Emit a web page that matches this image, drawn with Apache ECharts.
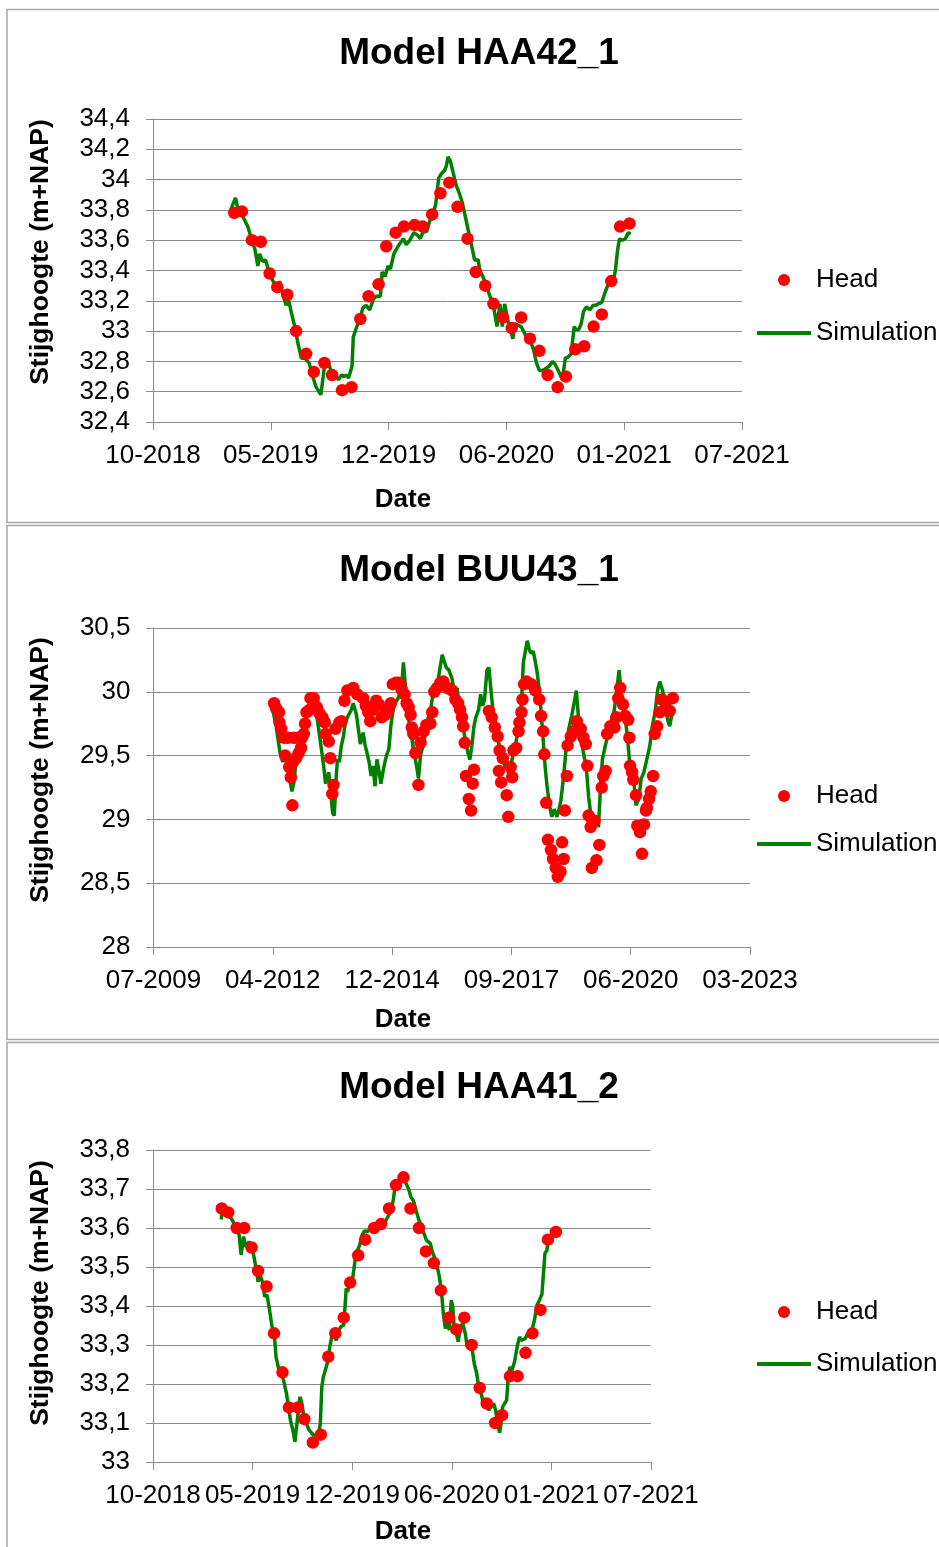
<!DOCTYPE html>
<html>
<head>
<meta charset="utf-8">
<script src="https://cdn.jsdelivr.net/npm/echarts@6/dist/echarts.min.js"></script>
<style>
  html, body { margin: 0; padding: 0; background: #fff; }
  #chart { width: 939px; height: 1547px; }
</style>
</head>
<body>
<div id="chart"></div>
<script>
// Dates are spreadsheet day serials (days since 1899-12-30).

// Measurement dates shared by the HAA wells (twice a month)
const haaHeadDays = [
  43538, 43551, 43568, 43583, 43598, 43611, 43628, 43643, 43660, 43673,
  43691, 43704, 43721, 43737, 43752, 43766, 43783, 43796, 43812, 43826,
  43844, 43858, 43874, 43888, 43903, 43917, 43934, 43948, 43964, 43978,
  43994, 44009, 44025, 44040, 44056, 44070, 44087, 44101, 44117, 44132,
  44148, 44162, 44178, 44193, 44209
];

// HAA42_1 observed head (m+NAP)
const haa42Head = [
  33.78, 33.79, 33.60, 33.59, 33.38, 33.29, 33.24, 33.00, 32.85, 32.73,
  32.79, 32.71, 32.61, 32.63, 33.08, 33.23, 33.31, 33.56, 33.65, 33.69,
  33.70, 33.69, 33.77, 33.91, 33.98, 33.82, 33.61, 33.39, 33.30, 33.18,
  33.09, 33.02, 33.09, 32.95, 32.87, 32.71, 32.63, 32.70, 32.88, 32.90,
  33.03, 33.11, 33.33, 33.69, 33.71
];

// HAA42_1 simulated head
const haa42SimDays = [
  43532, 43540, 43544, 43552, 43561, 43568, 43573, 43578, 43581, 43586,
  43591, 43598, 43605, 43611, 43615, 43619, 43626, 43630, 43635, 43642,
  43646, 43652, 43658, 43665, 43672, 43677, 43685, 43689, 43692, 43697,
  43702, 43709, 43715, 43720, 43724, 43729, 43732, 43738, 43740, 43746,
  43751, 43756, 43762, 43768, 43774, 43779, 43786, 43789, 43794, 43799,
  43803, 43809, 43816, 43819, 43825, 43830, 43836, 43843, 43850, 43854,
  43858, 43865, 43870, 43874, 43880, 43885, 43890, 43895, 43898, 43901,
  43905, 43910, 43915, 43920, 43925, 43930, 43935, 43940, 43946, 43952,
  43955, 43960, 43966, 43972, 43977, 43984, 43989, 43993, 43997, 44004,
  44011, 44014, 44019, 44025, 44029, 44034, 44041, 44046, 44051, 44056,
  44061, 44066, 44073, 44078, 44083, 44088, 44095, 44100, 44105, 44110,
  44115, 44118, 44123, 44127, 44131, 44136, 44142, 44147, 44152, 44156,
  44162, 44167, 44172, 44176, 44182, 44185, 44189, 44192, 44197, 44202,
  44207, 44211
];
const haa42Sim = [
  33.80, 33.88, 33.81, 33.76, 33.69, 33.60, 33.54, 33.43, 33.51, 33.46,
  33.47, 33.38, 33.32, 33.27, 33.33, 33.26, 33.17, 33.21, 33.12, 33.01,
  32.92, 32.82, 32.82, 32.79, 32.69, 32.63, 32.58, 32.70, 32.81, 32.80,
  32.74, 32.71, 32.68, 32.71, 32.70, 32.71, 32.69, 32.77, 32.96, 33.03,
  33.07, 33.15, 33.17, 33.14, 33.21, 33.23, 33.23, 33.39, 33.36, 33.43,
  33.41, 33.51, 33.56, 33.55, 33.61, 33.57, 33.60, 33.65, 33.63, 33.61,
  33.65, 33.66, 33.73, 33.74, 33.84, 34.01, 34.04, 34.06, 34.09, 34.15,
  34.12, 34.04, 33.96, 33.91, 33.85, 33.76, 33.67, 33.58, 33.47, 33.47,
  33.40, 33.36, 33.30, 33.23, 33.19, 33.03, 33.18, 33.03, 33.18, 33.04,
  32.95, 33.05, 33.04, 33.03, 33.00, 32.96, 32.93, 32.88, 32.79, 32.74,
  32.74, 32.75, 32.77, 32.80, 32.78, 32.74, 32.68, 32.82, 32.83, 32.85,
  33.03, 33.01, 33.01, 33.05, 33.13, 33.16, 33.14, 33.17, 33.17, 33.18,
  33.19, 33.25, 33.30, 33.33, 33.34, 33.40, 33.54, 33.61, 33.60, 33.61,
  33.65, 33.64
];

// BUU43_1 observed head
const buu43HeadDays = [
  41011, 41028, 41051, 41056, 41071, 41094, 41104, 41127, 41137, 41151,
  41164, 41170, 41177, 41194, 41210, 41217, 41237, 41243, 41260, 41270,
  41283, 41310, 41316, 41343, 41369, 41393, 41416, 41436, 41442, 41469,
  41482, 41499, 41509, 41525, 41558, 41575, 41601, 41625, 41674, 41708,
  41757, 41780, 41800, 41817, 41840, 41867, 41890, 41913, 41940, 41966,
  41989, 42006, 42032, 42056, 42079, 42105, 42122, 42139, 42155, 42165,
  42178, 42195, 42221, 42238, 42265, 42288, 42321, 42337, 42354, 42377,
  42404, 42430, 42464, 42503, 42530, 42553, 42570, 42586, 42596, 42609,
  42619, 42643, 42662, 42676, 42686, 42812, 42835, 42861, 42885, 42895,
  42901, 42914, 42928, 42961, 42974, 42994, 43007, 43017, 43040, 43060,
  43067, 43084, 43093, 43107, 43127, 43166, 43200, 43233, 43249, 43266,
  43276, 43292, 43306, 43332, 43349, 43372, 43389, 43412, 43425, 43438,
  43448, 43465, 43471, 43498, 43524, 43548, 43581, 43604, 43624, 43637,
  43647, 43664, 43674, 43680, 43697, 43713, 43737, 43757, 43770, 43790,
  43803, 43830, 43863, 43879, 43896, 43912, 43936, 43955, 43979, 43989,
  43995, 44012, 44022, 44045, 44055, 44078, 44095, 44111, 44128, 44135,
  44154, 44168, 44188, 44201, 44221, 44244, 44261, 44294, 44327, 44353
];
const buu43Head = [
  29.91, 29.87, 29.84, 29.76, 29.71, 29.64, 29.50, 29.64, 29.41, 29.33,
  29.11, 29.45, 29.64, 29.48, 29.64, 29.52, 29.56, 29.64, 29.67, 29.75,
  29.84, 29.86, 29.95, 29.95, 29.88, 29.83, 29.80, 29.76, 29.67, 29.61,
  29.48, 29.20, 29.27, 29.71, 29.76, 29.77, 29.93, 30.01, 30.03, 29.98,
  29.95, 29.89, 29.84, 29.77, 29.86, 29.93, 29.90, 29.80, 29.82, 29.85,
  29.91, 30.06, 30.07, 30.07, 30.02, 29.98, 29.91, 29.88, 29.82, 29.72,
  29.67, 29.52, 29.27, 29.60, 29.69, 29.74, 29.75, 29.84, 30.00, 30.03,
  30.07, 30.08, 30.03, 30.01, 29.94, 29.91, 29.86, 29.80, 29.73, 29.60,
  29.34, 29.16, 29.07, 29.28, 29.39, 29.85, 29.80, 29.72, 29.65, 29.38,
  29.54, 29.29, 29.48, 29.19, 29.02, 29.41, 29.33, 29.54, 29.56, 29.69,
  29.76, 29.84, 29.94, 30.06, 30.08, 30.06, 30.01, 29.94, 29.81, 29.69,
  29.51, 29.13, 28.84, 28.76, 28.69, 28.62, 28.55, 28.59, 28.82, 28.69,
  29.07, 29.34, 29.58, 29.65, 29.69, 29.77, 29.71, 29.64, 29.59, 29.42,
  29.03, 28.94, 28.62, 28.98, 28.99, 28.68, 28.80, 29.25, 29.34, 29.38,
  29.67, 29.73, 29.72, 29.80, 29.95, 30.03, 29.90, 29.81, 29.78, 29.64,
  29.42, 29.37, 29.31, 29.19, 28.95, 28.90, 28.73, 28.96, 29.07, 29.09,
  29.16, 29.22, 29.34, 29.67, 29.73, 29.84, 29.94, 29.91, 29.85, 29.95
];

// BUU43_1 simulated head
const buu43SimDays = [
  40988, 41028, 41061, 41084, 41111, 41137, 41160, 41177, 41194, 41210,
  41227, 41243, 41270, 41293, 41316, 41343, 41369, 41393, 41409, 41426,
  41442, 41469, 41485, 41502, 41515, 41532, 41542, 41558, 41575, 41592,
  41608, 41631, 41658, 41674, 41701, 41714, 41734, 41757, 41774, 41790,
  41807, 41824, 41840, 41857, 41873, 41890, 41906, 41923, 41940, 41956,
  41973, 41989, 42006, 42022, 42046, 42062, 42079, 42095, 42112, 42125,
  42139, 42155, 42172, 42188, 42205, 42221, 42238, 42251, 42265, 42278,
  42298, 42321, 42337, 42354, 42371, 42387, 42404, 42420, 42437, 42454,
  42477, 42503, 42530, 42546, 42563, 42586, 42603, 42619, 42636, 42652,
  42669, 42686, 42702, 42725, 42742, 42759, 42775, 42795, 42812, 42828,
  42845, 42861, 42878, 42895, 42911, 42928, 42944, 42967, 42984, 43001,
  43017, 43034, 43050, 43067, 43084, 43100, 43117, 43133, 43150, 43166,
  43183, 43200, 43216, 43233, 43249, 43266, 43282, 43299, 43319, 43339,
  43359, 43382, 43399, 43415, 43438, 43458, 43481, 43505, 43531, 43544,
  43564, 43581, 43597, 43614, 43631, 43647, 43664, 43690, 43713, 43730,
  43747, 43763, 43790, 43813, 43836, 43863, 43886, 43903, 43922, 43946,
  43969, 43989, 44012, 44028, 44045, 44068, 44088, 44111, 44135, 44161,
  44181, 44204, 44227, 44244, 44261, 44277, 44294, 44310, 44327, 44343,
  44360
];
const buu43Sim = [
  29.91, 29.73, 29.52, 29.45, 29.52, 29.34, 29.22, 29.29, 29.45, 29.52,
  29.58, 29.65, 29.78, 29.86, 29.95, 29.93, 29.81, 29.65, 29.54, 29.42,
  29.28, 29.37, 29.21, 29.05, 29.03, 29.34, 29.47, 29.45, 29.58, 29.65,
  29.76, 29.81, 29.86, 29.91, 29.82, 29.73, 29.59, 29.68, 29.58, 29.52,
  29.45, 29.34, 29.42, 29.26, 29.47, 29.38, 29.28, 29.37, 29.45, 29.51,
  29.55, 29.73, 29.84, 29.91, 29.94, 29.98, 30.03, 30.23, 30.04, 29.89,
  29.78, 29.71, 29.59, 29.50, 29.42, 29.32, 29.50, 29.55, 29.60, 29.68,
  29.78, 29.85, 29.95, 29.97, 30.02, 30.10, 30.20, 30.29, 30.24, 30.19,
  30.17, 30.10, 29.94, 30.03, 29.84, 29.76, 29.68, 29.60, 29.52, 29.47,
  29.58, 29.73, 29.80, 29.86, 29.98, 29.89, 29.94, 30.17, 30.19, 30.02,
  29.86, 29.78, 29.71, 29.59, 29.52, 29.47, 29.42, 29.39, 29.34, 29.45,
  29.52, 29.58, 29.67, 29.78, 29.91, 30.23, 30.32, 30.40, 30.33, 30.30,
  30.32, 30.24, 30.15, 30.02, 29.84, 29.63, 29.42, 29.26, 29.11, 29.02,
  29.08, 29.02, 29.08, 29.15, 29.34, 29.55, 29.71, 29.81, 29.94, 30.01,
  29.78, 29.65, 29.56, 29.47, 29.37, 29.18, 29.05, 29.03, 29.00, 28.94,
  29.26, 29.47, 29.59, 29.67, 29.77, 29.86, 30.04, 30.17, 29.98, 29.85,
  29.68, 29.47, 29.39, 29.28, 29.11, 29.16, 29.32, 29.37, 29.47, 29.58,
  29.73, 29.84, 30.02, 30.08, 30.03, 29.97, 29.86, 29.78, 29.73, 29.81,
  29.86
];

// HAA41_2 observed head
const haa41Head = [
  33.65, 33.64, 33.60, 33.60, 33.55, 33.49, 33.45, 33.33, 33.23, 33.14,
  33.14, 33.11, 33.05, 33.07, 33.27, 33.33, 33.37, 33.46, 33.53, 33.57,
  33.60, 33.61, 33.65, 33.71, 33.73, 33.65, 33.60, 33.54, 33.51, 33.44,
  33.37, 33.34, 33.37, 33.30, 33.19, 33.15, 33.10, 33.12, 33.22, 33.22,
  33.28, 33.33, 33.39, 33.57, 33.59
];

// HAA41_2 simulated head
const haa41SimDays = [
  43537, 43539, 43544, 43553, 43561, 43569, 43573, 43577, 43582, 43586,
  43593, 43597, 43602, 43607, 43611, 43615, 43621, 43624, 43629, 43634,
  43639, 43644, 43647, 43653, 43658, 43662, 43668, 43672, 43676, 43681,
  43685, 43689, 43692, 43695, 43699, 43703, 43708, 43713, 43718, 43722,
  43728, 43733, 43736, 43739, 43742, 43746, 43750, 43755, 43759, 43763,
  43768, 43773, 43778, 43783, 43786, 43788, 43791, 43795, 43801, 43805,
  43808, 43811, 43815, 43820, 43825, 43830, 43836, 43841, 43848, 43855,
  43862, 43868, 43875, 43880, 43883, 43886, 43888, 43893, 43898, 43904,
  43908, 43914, 43918, 43923, 43928, 43934, 43938, 43944, 43949, 43952,
  43957, 43961, 43965, 43970, 43975, 43979, 43983, 43987, 43991, 43995,
  43999, 44002, 44005, 44009, 44013, 44017, 44022, 44027, 44031, 44035,
  44041, 44045, 44050, 44054, 44059, 44062, 44067, 44070, 44074, 44079,
  44084, 44088, 44092, 44096, 44099, 44102, 44106, 44110, 44114, 44117,
  44121, 44126, 44129, 44132, 44136, 44139, 44142, 44148, 44151, 44156,
  44161, 44166, 44171, 44176, 44181, 44184, 44187, 44191, 44194, 44199,
  44204, 44208
];
const haa41Sim = [
  33.622, 33.642, 33.639, 33.633, 33.616, 33.595, 33.582, 33.531, 33.578, 33.552,
  33.565, 33.552, 33.531, 33.496, 33.462, 33.479, 33.458, 33.424, 33.428, 33.390,
  33.347, 33.321, 33.270, 33.235, 33.227, 33.210, 33.176, 33.141, 33.107, 33.081,
  33.052, 33.052, 33.133, 33.167, 33.150, 33.116, 33.099, 33.083, 33.075, 33.069,
  33.069, 33.075, 33.099, 33.193, 33.218, 33.235, 33.253, 33.295, 33.321, 33.331,
  33.312, 33.338, 33.348, 33.351, 33.407, 33.445, 33.436, 33.466, 33.471, 33.509,
  33.535, 33.539, 33.556, 33.582, 33.593, 33.590, 33.599, 33.602, 33.608, 33.605,
  33.612, 33.620, 33.637, 33.655, 33.676, 33.706, 33.714, 33.714, 33.723, 33.727,
  33.723, 33.697, 33.679, 33.670, 33.646, 33.620, 33.608, 33.586, 33.569, 33.573,
  33.560, 33.539, 33.526, 33.505, 33.475, 33.441, 33.381, 33.342, 33.364, 33.338,
  33.415, 33.398, 33.338, 33.330, 33.308, 33.347, 33.355, 33.330, 33.295, 33.291,
  33.287, 33.253, 33.227, 33.193, 33.176, 33.158, 33.141, 33.150, 33.133, 33.141,
  33.150, 33.133, 33.099, 33.075, 33.099, 33.141, 33.150, 33.158, 33.227, 33.244,
  33.235, 33.257, 33.261, 33.300, 33.321, 33.312, 33.308, 33.317, 33.327, 33.327,
  33.338, 33.364, 33.402, 33.415, 33.430, 33.434, 33.535, 33.543, 33.576, 33.578,
  33.586, 33.599
];

const seriesNames = ['Head', 'Simulation'];
const panelTitles = ['Model HAA42_1', 'Model BUU43_1', 'Model HAA41_2'];
const yAxisTitle = 'Stijghoogte (m+NAP)';
const xAxisTitle = 'Date';

const FONT = '"Liberation Sans", Arial, Helvetica, sans-serif';
const GRID_GRAY = '#8c8c8c';
const RED = '#ff0000';
const GREEN = '#008000';

const zip = (xs, ys) => xs.map((x, i) => [x, ys[i]]);
const EPOCH = Date.UTC(1899, 11, 30);
const monthYear = (s) => {
  const d = new Date(EPOCH + Math.round(s) * 86400000);
  return String(d.getUTCMonth() + 1).padStart(2, '0') + '-' + d.getUTCFullYear();
};
const decimalComma = (v) => String(Math.round(v * 10) / 10).replace('.', ',');

// Panel layout: plot rectangle, axis ranges, legend and text positions
const panels = [
  { grid: { left: 153, top: 119, width: 589, height: 303 },
    x: { min: 43400, max: 44400, interval: 200 },
    y: { min: 32.4, max: 34.4, interval: 0.2 },
    titleTop: 30, yNameY: 252, dateY: 500, legendTop: 267, legendGap: 27 },
  { grid: { left: 153.5, top: 628, width: 596.5, height: 319 },
    x: { min: 40000, max: 45000, interval: 1000 },
    y: { min: 28, max: 30.5, interval: 0.5 },
    titleTop: 547, yNameY: 770, dateY: 1020, legendTop: 783, legendGap: 22 },
  { grid: { left: 153, top: 1150, width: 498, height: 312 },
    x: { min: 43400, max: 44400, interval: 200 },
    y: { min: 33, max: 33.8, interval: 0.1 },
    titleTop: 1064, yNameY: 1293, dateY: 1532, legendTop: 1299, legendGap: 26 }
];

const headSets = [zip(haaHeadDays, haa42Head), zip(buu43HeadDays, buu43Head), zip(haaHeadDays, haa41Head)];
const simSets = [zip(haa42SimDays, haa42Sim), zip(buu43SimDays, buu43Sim), zip(haa41SimDays, haa41Sim)];

const axisLineStyle = { color: GRID_GRAY, width: 1 };
const tickFont = { fontFamily: FONT, fontSize: 26, color: '#000' };
// flat bar used as the legend key of the simulated line
const LINE_KEY = 'path://M0,0 L54,0 L54,4 L0,4 Z';

const option = {
  backgroundColor: '#fff',
  animation: false,
  title: panels.map((p, i) => ({
    text: panelTitles[i],
    left: 474, top: p.titleTop, textAlign: 'center',
    textStyle: { fontFamily: FONT, fontSize: 37, fontWeight: 'bold', color: '#000' }
  })),
  legend: panels.map((p) => ({
    data: [{ name: seriesNames[0], icon: 'circle' }, { name: seriesNames[1], icon: LINE_KEY }],
    orient: 'vertical',
    left: 757, top: p.legendTop, padding: 0,
    itemWidth: 54, itemHeight: 12, itemGap: p.legendGap,
    selectedMode: false,
    textStyle: { fontFamily: FONT, fontSize: 26, color: '#000' }
  })),
  grid: panels.map((p) => Object.assign({ containLabel: false }, p.grid)),
  xAxis: panels.map((p, i) => ({
    type: 'value', gridIndex: i,
    min: p.x.min, max: p.x.max, interval: p.x.interval,
    axisLine: { show: true, onZero: false, lineStyle: axisLineStyle },
    axisTick: { show: true, length: 8, lineStyle: axisLineStyle },
    splitLine: { show: false },
    axisLabel: Object.assign({ margin: 21, formatter: monthYear, hideOverlap: false }, tickFont)
  })),
  yAxis: panels.map((p, i) => ({
    type: 'value', gridIndex: i,
    min: p.y.min, max: p.y.max, interval: p.y.interval,
    axisLine: { show: true, lineStyle: axisLineStyle },
    axisTick: { show: true, length: 7, lineStyle: axisLineStyle },
    splitLine: { show: true, lineStyle: axisLineStyle },
    axisLabel: Object.assign({ margin: 23, formatter: decimalComma }, tickFont)
  })),
  series: panels.flatMap((p, i) => [
    { name: 'Simulation', type: 'line', xAxisIndex: i, yAxisIndex: i,
      data: simSets[i], symbol: 'none', showSymbol: false,
      lineStyle: { color: GREEN, width: 3.5 }, itemStyle: { color: GREEN }, z: 2 },
    { name: 'Head', type: 'scatter', xAxisIndex: i, yAxisIndex: i,
      data: headSets[i], symbol: 'circle', symbolSize: 12.5,
      itemStyle: { color: RED, opacity: 1 }, z: 3 }
  ]),
  graphic: [
    // panel frames
    { type: 'rect', shape: { x: 7, y: 9.5, width: 1000, height: 513 },
      style: { fill: 'none', stroke: '#a6a6a6', lineWidth: 1.5 }, z: -1 },
    { type: 'rect', shape: { x: 7, y: 525.5, width: 1000, height: 514 },
      style: { fill: 'none', stroke: '#a6a6a6', lineWidth: 1.5 }, z: -1 },
    { type: 'rect', shape: { x: 7, y: 1042.5, width: 1000, height: 600 },
      style: { fill: 'none', stroke: '#a6a6a6', lineWidth: 1.5 }, z: -1 }
  ].concat(panels.map((p) => ({
    type: 'text', x: 41, y: p.yNameY, rotation: Math.PI / 2,
    style: { text: yAxisTitle, fontFamily: FONT, fontSize: 26.5, fontWeight: 'bold',
      fill: '#000', textAlign: 'center', textVerticalAlign: 'middle' }
  }))).concat(panels.map((p) => ({
    type: 'text', x: 403, y: p.dateY,
    style: { text: xAxisTitle, fontFamily: FONT, fontSize: 26, fontWeight: 'bold',
      fill: '#000', textAlign: 'center', textVerticalAlign: 'middle' }
  })))
};

const chart = echarts.init(document.getElementById('chart'), null, { renderer: 'canvas' });
chart.setOption(option);
</script>
</body>
</html>
